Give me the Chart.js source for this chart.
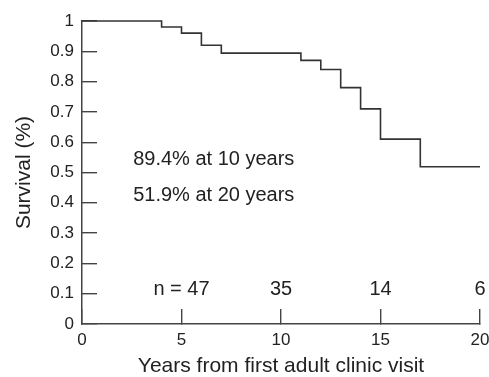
<!DOCTYPE html>
<html>
<head>
<meta charset="utf-8">
<script src="https://cdn.jsdelivr.net/npm/chart.js@4"></script>
<style>
body{margin:0;background:#fff}
canvas{display:block}
</style>
</head>
<body>
<canvas id="kmChart" width="489" height="377"></canvas>
<script>

const years = [0, 4, 5, 6, 7, 11, 12, 13, 14, 15, 17, 20]
const survival = [1, 0.98, 0.96, 0.92, 0.894, 0.87, 0.84, 0.78, 0.71, 0.61, 0.519, 0.519]

const xTickLabels = ["0", "5", "10", "15", "20"]
const yTickLabels = ["0", "0.1", "0.2", "0.3", "0.4", "0.5", "0.6", "0.7", "0.8", "0.9", "1"]

const atRiskYears = [5, 10, 15, 20]
const atRiskCounts = ["n = 47", "35", "14", "6"]

const notes = ["89.4% at 10 years", "51.9% at 20 years"]


const font = "'Liberation Sans', Arial, Helvetica, sans-serif"
const ink = "#222"
const axisColor = "#444"


// text inside the plot: survival notes and numbers at risk
const textPlugin = {
id: "kmText",
afterDraw(chart){

const ctx = chart.ctx
const x = chart.scales.x
const y = chart.scales.y

ctx.save()
ctx.fillStyle = ink
ctx.font = "20px " + font
ctx.textBaseline = "middle"

ctx.textAlign = "left"
ctx.fillText(notes[0], x.getPixelForValue(2.57), y.getPixelForValue(0.543))
ctx.fillText(notes[1], x.getPixelForValue(2.57), y.getPixelForValue(0.425))

ctx.textAlign = "center"
atRiskYears.forEach((yr, i)=>{
ctx.fillText(atRiskCounts[i], x.getPixelForValue(yr), y.getPixelForValue(0.115))
})

ctx.restore()

}
}


new Chart(document.getElementById("kmChart"), {

type: "line",

data: {
datasets: [{
data: years.map((yr, i)=>({x: yr, y: survival[i]})),
stepped: "before",
borderColor: "#333",
borderWidth: 1.6,
pointRadius: 0,
fill: false,
clip: false
}]
},

options: {
responsive: false,
animation: false,
layout: {padding: {left: 0, top: 21, right: 9, bottom: 0}},
plugins: {
legend: {display: false},
tooltip: {enabled: false}
},
scales: {
x: {
type: "linear",
min: 0,
max: 20,
ticks: {
stepSize: 5,
maxRotation: 0,
autoSkip: false,
padding: 21,
color: ink,
font: {family: font, size: 17},
callback: (v, i)=>xTickLabels[i]
},
grid: {drawOnChartArea: false, tickLength: -15, color: axisColor, lineWidth: 1.4},
border: {color: axisColor, width: 1.5},
title: {
display: true,
text: "Years from first adult clinic visit",
color: ink,
font: {family: font, size: 21, lineHeight: 1},
padding: {top: 0, bottom: 0}
},
afterFit(scale){
scale.height = 53
scale.paddingLeft = 0
scale.paddingRight = 0
}
},
y: {
min: 0,
max: 1,
ticks: {
stepSize: 0.1,
padding: 23,
color: ink,
font: {family: font, size: 17},
callback: (v, i)=>yTickLabels[i]
},
grid: {drawOnChartArea: false, tickLength: -15, color: axisColor, lineWidth: 1.4},
border: {color: axisColor, width: 1.5},
title: {
display: true,
text: "Survival (%)",
color: ink,
font: {family: font, size: 21, lineHeight: 1},
padding: {top: 14, bottom: 0}
},
afterFit(scale){
scale.width = 82
scale.paddingTop = 0
scale.paddingBottom = 0
}
}
}
},

plugins: [textPlugin]

})

</script>
</body>
</html>
